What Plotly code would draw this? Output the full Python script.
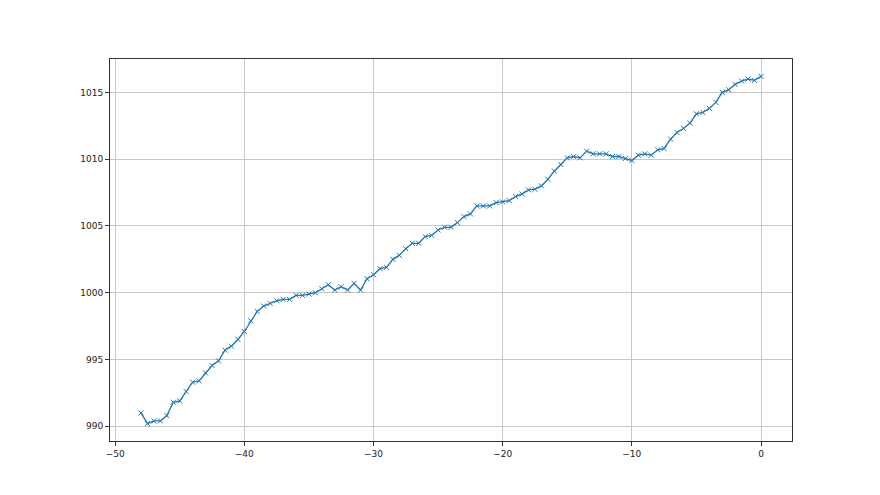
import plotly.graph_objects as go

x_values = [-48 + 0.5 * i for i in range(97)]
pressure = [
    991.0, 990.2, 990.4, 990.4, 990.8, 991.8, 991.9, 992.6, 993.3, 993.4,
    994.0, 994.55, 994.9, 995.7, 996.0, 996.5, 997.1, 997.9, 998.6, 999.0,
    999.2, 999.4, 999.5, 999.5, 999.8, 999.8, 999.9, 1000.0, 1000.3, 1000.6,
    1000.2, 1000.45, 1000.2, 1000.7, 1000.2, 1001.05, 1001.35, 1001.8, 1001.9, 1002.5,
    1002.8, 1003.3, 1003.7, 1003.7, 1004.2, 1004.3, 1004.7, 1004.9, 1004.9, 1005.25,
    1005.7, 1005.9, 1006.5, 1006.5, 1006.5, 1006.75, 1006.8, 1006.9, 1007.2, 1007.4,
    1007.7, 1007.75, 1008.0, 1008.5, 1009.1, 1009.6, 1010.1, 1010.2, 1010.1, 1010.6,
    1010.4, 1010.4, 1010.4, 1010.2, 1010.2, 1010.05, 1009.9, 1010.3, 1010.4, 1010.3,
    1010.7, 1010.8, 1011.5, 1012.0, 1012.3, 1012.7, 1013.4, 1013.5, 1013.8, 1014.25,
    1015.0, 1015.2, 1015.6, 1015.85, 1016.0, 1015.9, 1016.2,
]
x_ticks = [-50, -40, -30, -20, -10, 0]
y_ticks = [990, 995, 1000, 1005, 1010, 1015]

fig = go.Figure(go.Scatter(
    x=x_values, y=pressure, mode="lines+markers",
    line=dict(color="#1f77b4", width=1.3),
    marker=dict(symbol="x-thin-open", size=5, color="#1f77b4",
                line=dict(width=1, color="#1f77b4")),
))

axis_common = dict(
    showline=True, linecolor="#333333", linewidth=1, mirror=True,
    ticks="outside", ticklen=4, tickcolor="#333333", tickwidth=1,
    showgrid=True, gridcolor="#c8c8c8", gridwidth=1, zeroline=False,
    tickfont=dict(family="DejaVu Sans", size=9, color="#222222"),
)
fig.update_layout(
    width=880, height=495,
    margin=dict(l=102, r=96, t=51, b=62),
    paper_bgcolor="white", plot_bgcolor="white",
    showlegend=False,
    xaxis=dict(range=[-50.4, 2.4], tickvals=x_ticks,
               ticktext=["\u221250", "\u221240", "\u221230", "\u221220", "\u221210", "0"],
               **axis_common),
    yaxis=dict(range=[988.9, 1017.5], tickvals=y_ticks, **axis_common),
)
fig.write_html("out.html")
